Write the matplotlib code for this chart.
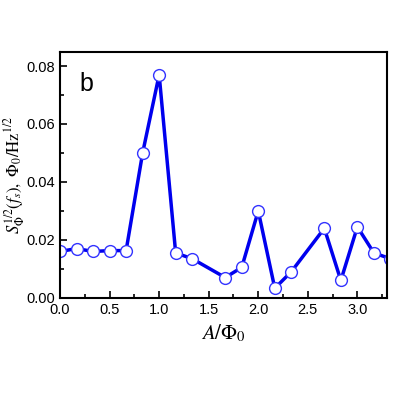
import matplotlib
matplotlib.use('Agg')
import matplotlib.pyplot as plt
from matplotlib.ticker import MultipleLocator

plt.rcParams['font.family'] = 'Liberation Sans'
plt.rcParams['mathtext.fontset'] = 'stix'

# A/Phi0 values and noise amplitude
x = [0, 1/6, 1/3, 1/2, 2/3, 5/6, 1, 7/6, 4/3, 5/3, 11/6, 2, 13/6, 7/3, 8/3, 17/6, 3, 19/6, 10/3]
s = [0.016, 0.017, 0.016, 0.0163, 0.0163, 0.050, 0.077, 0.0155, 0.0135, 0.007,
     0.0105, 0.030, 0.0033, 0.009, 0.024, 0.006, 0.0245, 0.0155, 0.0135]

fig = plt.figure(figsize=(3.95, 3.95), dpi=100)
ax = fig.add_axes([0.152, 0.246, 0.828, 0.622])
ax.plot(x, s, color='#0000ee', lw=2.5, marker='o', ms=8.5,
        mfc='white', mec='#3333ff', mew=1.0)

ax.set_xlim(0, 3.3)
ax.set_ylim(0, 0.0848)
ax.xaxis.set_major_locator(MultipleLocator(0.5))
ax.xaxis.set_minor_locator(MultipleLocator(0.25))
ax.yaxis.set_major_locator(MultipleLocator(0.02))
ax.yaxis.set_minor_locator(MultipleLocator(0.01))
ax.xaxis.set_major_formatter(plt.FormatStrFormatter('%.1f'))
ax.yaxis.set_major_formatter(plt.FormatStrFormatter('%.2f'))
ax.tick_params(which='both', direction='in', labelsize=10.5, width=1.2)
ax.tick_params(which='major', length=5)
ax.tick_params(which='minor', length=3)
for sp in ax.spines.values():
    sp.set_linewidth(1.5)

ax.set_xlabel(r'$A/\Phi_0$', fontsize=15)
ax.set_ylabel(r'$S_\Phi^{1/2}(f_s),\ \Phi_0/\mathrm{Hz}^{1/2}$', fontsize=12)
ax.yaxis.set_label_coords(-0.1, 0.5)
ax.text(0.2, 0.0715, 'b', fontsize=18)

fig.savefig('out.png', dpi=100)
